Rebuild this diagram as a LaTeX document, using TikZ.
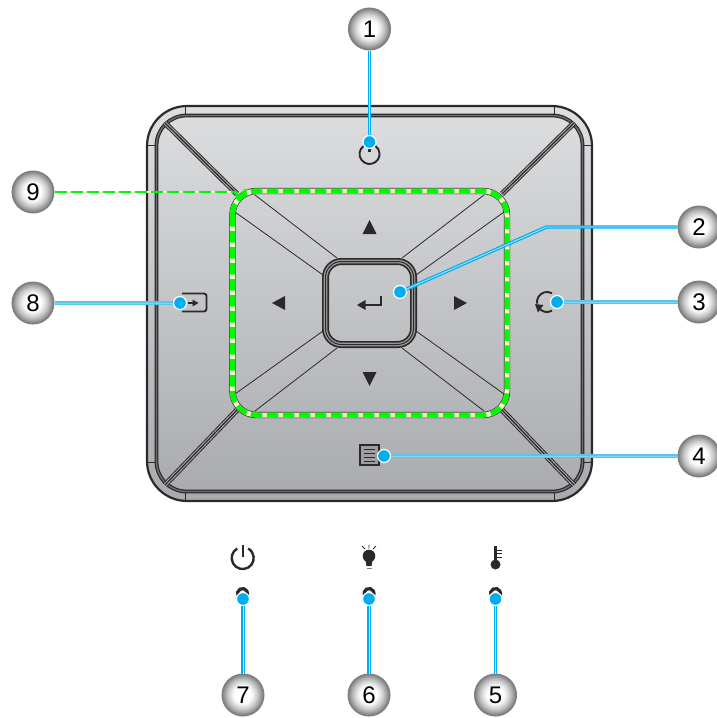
\documentclass[tikz,border=0pt]{standalone}
\usepackage{fontspec}
\setmainfont{Liberation Sans}
\definecolor{dk}{HTML}{2B2A2B}
\definecolor{band}{HTML}{6E6E70}
\definecolor{cyan1}{HTML}{00AEEF}
\definecolor{cyan2}{HTML}{5CC3EA}
\definecolor{grn}{HTML}{00FA00}
\definecolor{crm}{HTML}{FBF6CF}
\definecolor{bodytop}{HTML}{DDDEE0}
\definecolor{bodybot}{HTML}{A9AAAD}
\newcommand\ballat[1]{%
  \foreach \rr in {21,20.5,...,8}{%
    \pgfmathsetmacro\kk{52*((\rr-8)/13)^1.4}%
    \fill[black!\kk] #1 circle[radius=\rr];}%
}
\tikzset{
  callout/.style={circle,minimum size=42pt,inner sep=0pt,draw=black!50,line width=1pt,font=\fontsize{24}{24}\selectfont,text=black},
  pin/.style={circle,minimum size=13pt,inner sep=0pt,fill=cyan1,draw=white,line width=1.2pt},
  wireA/.style={draw=cyan1,line width=3.4pt,postaction={draw=cyan1!25!white,line width=0.8pt}},
  wireB/.style={draw=cyan2,line width=4.2pt,postaction={draw=cyan1!50!white,line width=1pt}},
  thin line/.style={draw=dk,line width=0.8pt},
  icon/.style={draw=dk,line width=1.9pt},
}
\begin{document}
\begin{tikzpicture}[x=1pt,y=-1pt]
\useasboundingbox (0,0) rectangle (717,718);
\clip (0,0) rectangle (717,718);
% body
\fill[top color=bodytop,bottom color=bodybot,rounded corners=40pt] (147,106) rectangle (592,501);
\draw[dk,line width=2.2pt,rounded corners=40pt] (147,106) rectangle (592,501);
\draw[dk,line width=3.8pt,rounded corners=30pt] (156.5,115.5) rectangle (582.5,491.5);
\draw[band,line width=1.4pt,rounded corners=30pt] (156.5,115.5) rectangle (582.5,491.5);
\foreach \xa/\ya/\xb/\yb in {185/106/185/114,554/106/554/114,185/501/185/493,554/501/554/493,147/145/155/145,592/145/584/145,147/462/155/462,592/462/584/462}
  \draw[dk,line width=0.7pt] (\xa,\ya) -- (\xb,\yb);
% outer diagonals
\foreach \xa/\ya/\xb/\yb in {165/123/237/194,574/123/502/194,165/485/237/410,574/485/502/410}{
  \draw[dk,line width=5.4pt] (\xa,\ya) -- (\xb,\yb);
  \draw[band!60!white,line width=3.4pt] (\xa,\ya) -- (\xb,\yb);
  \draw[dk,line width=1.2pt] (\xa,\ya) -- (\xb,\yb);
}
% inner thin lines
\foreach \xa/\ya/\xb/\yb in {255/195/337/258,235/212/323/275,484/195/402/258,504/212/416/275,255/411/337/348,235/394/323/331,484/411/402/348,504/394/416/331}
  \draw[thin line] (\xa,\ya) -- (\xb,\yb);
% centre button
\draw[dk,line width=7pt,rounded corners=16pt] (325.5,261.5) rectangle (413.5,344.5);
\draw[band!70!white,line width=3.6pt,rounded corners=16pt] (325.5,261.5) rectangle (413.5,344.5);
\draw[dk,line width=1pt,rounded corners=16pt] (325.5,261.5) rectangle (413.5,344.5);
% green frame
\draw[dk,line width=6.4pt,rounded corners=24pt] (232.5,191) rectangle (507,415);
\draw[crm,line width=5pt,rounded corners=24pt] (232.5,191) rectangle (507,415);
\draw[grn,line width=5pt,dash pattern=on 11.5pt off 4.5pt,rounded corners=24pt] (232.5,191) rectangle (507,415);
% arrows
\fill[dk] (369.5,220) -- (376.5,234) -- (362.5,234) -- cycle;
\fill[dk] (369.5,386) -- (376.5,372) -- (362.5,372) -- cycle;
\fill[dk] (272,303) -- (285,296) -- (285,310) -- cycle;
\fill[dk] (467,303) -- (454,296) -- (454,310) -- cycle;
% enter
\draw[dk,line width=2.4pt] (381,296) -- (381,305) -- (362,305);
\fill[dk] (357,305) -- (365.5,300) -- (365.5,310) -- cycle;
% power top
\draw[icon] (363.8,145.8) arc[start angle=235,end angle=-55,radius=10];
\fill[dk] (368,149) rectangle (371,152);
% source icon
\draw[dk,line width=1.9pt,rounded corners=2.5pt] (182,293.5) -- (206.5,293.5) -- (206.5,311.5) -- (182,311.5);
\draw[dk,line width=1.8pt] (188,303) -- (194,303);
\fill[dk] (198.5,303) -- (192.5,299.5) -- (192.5,306.5) -- cycle;
% return icon
\draw[icon] (552,293.3) arc[start angle=-60,end angle=-190,radius=10];
\draw[icon] (537.6,305.4) arc[start angle=160,end angle=60,radius=10];
\fill[dk] (535,304) -- (543.5,305) -- (538,312.5) -- cycle;
% menu icon
\fill[black!38] (360,445) rectangle (379,465);
\draw[dk,line width=2.4pt] (360,445) rectangle (379,465);
\foreach \yy in {449.5,453.5,457.5,461.5}
  \draw[dk,line width=1.4pt] (364,\yy) -- (375,\yy);
% power LED icon
\draw[dk,line width=2.4pt] (237.2,548.5) arc[start angle=240,end angle=-60,radius=11];
\draw[dk,line width=2.4pt] (242.7,545) -- (242.7,557);
% bulb icon
\fill[dk] (369,556) circle[radius=6.3];
\fill[dk] (365,558) -- (373,558) -- (371.5,566) -- (366.5,566) -- cycle;
\draw[dk!60!white,line width=1pt] (366.5,568) -- (371.5,568);
\draw[dk,line width=0.9pt] (369,544.5) -- (369,548.5) (362,546) -- (365,549) (376,546) -- (373,549);
% thermometer icon
\fill[dk] (495.5,564.5) circle[radius=5];
\fill[dk] (494,545.5) rectangle (497.3,562);
\foreach \yy in {550,553.5,557}
  \draw[dk,line width=0.9pt] (497,\yy) -- (501.5,\yy);
% LED openings
\foreach \xx in {242.5,369,495.5}
  \draw[dk,line width=3.2pt] (\xx-4.33,596) arc[start angle=150,end angle=390,radius=5];
% callout balls
\ballat{(369.5,29)}\ballat{(699,227)}\ballat{(699,302)}\ballat{(699,456)}\ballat{(495.5,695)}\ballat{(369,695)}\ballat{(243,695)}\ballat{(33,303)}\ballat{(33,192)}
% callouts
\node[callout] (c1) at (369.5,29) {1};
\node[callout] (c2) at (699,227) {2};
\node[callout] (c3) at (699,302) {3};
\node[callout] (c4) at (699,456) {4};
\node[callout] (c5) at (495.5,695) {5};
\node[callout] (c6) at (369,695) {6};
\node[callout] (c7) at (243,695) {7};
\node[callout] (c8) at (33,303) {8};
\node[callout] (c9) at (33,192) {9};
% pins
\node[pin] (p1) at (369.5,142) {};
\node[pin] (p2) at (400,292) {};
\node[pin] (p3) at (557,302) {};
\node[pin] (p4) at (384,456) {};
\node[pin] (p5) at (495.5,599) {};
\node[pin] (p6) at (369,599) {};
\node[pin] (p7) at (243,599) {};
\node[pin] (p8) at (180,303) {};
\coordinate (e2) at (546.5,227);
\coordinate (g9) at (236,192);
\path[wireA] (c1) -- (p1);
\path[wireA] (c2) -- (e2) -- (p2);
\path[wireB] (c3) -- (p3);
\path[wireB] (c4) -- (p4);
\path[wireA] (c5) -- (p5);
\path[wireA] (c6) -- (p6);
\path[wireA] (c7) -- (p7);
\path[wireB] (c8) -- (p8);
\draw[crm,line width=2.8pt] (c9) -- (g9);
\draw[grn,line width=2.8pt,dash pattern=on 12pt off 4pt] (c9) -- (g9);
\draw[grn,line width=3pt] (g9) -- (238,198) -- (246,190);
\end{tikzpicture}
\end{document}
